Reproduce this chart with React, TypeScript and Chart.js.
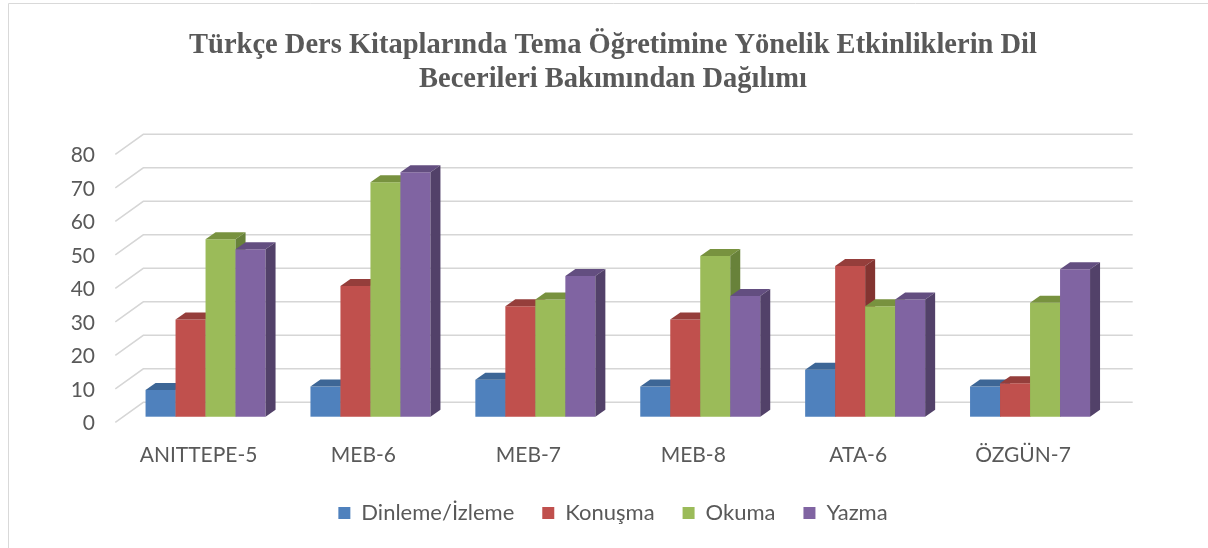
import React, { useEffect, useRef } from "react";
import { Chart, registerables } from "chart.js";

Chart.register(...registerables);

const categories = ["ANITTEPE-5", "MEB-6", "MEB-7", "MEB-8", "ATA-6", "ÖZGÜN-7"];
const dinlemeIzleme = [8, 9, 11, 9, 14, 9];
const konusma = [29, 39, 33, 29, 45, 10];
const okuma = [53, 70, 35, 48, 33, 34];
const yazma = [50, 73, 42, 36, 35, 44];
const seriesNames = ["Dinleme/İzleme", "Konuşma", "Okuma", "Yazma"];
const titleLines = [
  "Türkçe Ders Kitaplarında Tema Öğretimine Yönelik Etkinliklerin Dil",
  "Becerileri Bakımından Dağılımı",
];
const yMin = 0;
const yMax = 80;
const yStep = 10;

const frontColors = ["#4F81BD", "#C0504D", "#9BBB59", "#8064A2"];
const topColors = ["#3D6696", "#953E3B", "#78923F", "#634E80"];
const sideColors = ["#335884", "#833431", "#68823A", "#524169"];

const TEXT = "#595959";
const GRID = "#d6d6d6";
// 3D offsets
const BAR_DX = 10;
const BAR_DY = -7;
const WALL_DX = 20.2;
const WALL_DY = -14.4;
const FLOOR_DX = -28;
const FLOOR_DY = 20;

const threeD = {
  id: "threeD",
  beforeDatasetsDraw(chart: any) {
    const { ctx, chartArea: a } = chart;
    const y = chart.scales.y;
    ctx.save();
    // frame
    ctx.strokeStyle = "#d9d9d9";
    ctx.lineWidth = 1;
    ctx.beginPath();
    ctx.moveTo(0.5, chart.height);
    ctx.lineTo(0.5, 0.5);
    ctx.lineTo(chart.width, 0.5);
    ctx.stroke();
    // back wall + left wall gridlines
    ctx.strokeStyle = GRID;
    ctx.lineWidth = 1.5;
    y.ticks.forEach((t: any) => {
      const yb = y.getPixelForValue(t.value) + WALL_DY;
      const xl = a.left + WALL_DX;
      const xr = a.right + WALL_DX;
      ctx.beginPath();
      ctx.moveTo(xl + FLOOR_DX, yb + FLOOR_DY);
      ctx.lineTo(xl, yb);
      ctx.lineTo(xr, yb);
      ctx.stroke();
    });
    // bars in painter's order
    const n = chart.data.datasets.length;
    for (let i = 0; i < n; i++) {
      const meta = chart.getDatasetMeta(i);
      meta.data.forEach((el: any) => {
        el.draw(ctx);
        const { x, y: yt, base, width } = el.getProps(["x", "y", "base", "width"], true);
        const l = x - width / 2;
        const r = x + width / 2;
        ctx.fillStyle = topColors[i];
        ctx.beginPath();
        ctx.moveTo(l, yt);
        ctx.lineTo(r, yt);
        ctx.lineTo(r + BAR_DX, yt + BAR_DY);
        ctx.lineTo(l + BAR_DX, yt + BAR_DY);
        ctx.closePath();
        ctx.fill();
        ctx.fillStyle = sideColors[i];
        ctx.beginPath();
        ctx.moveTo(r, yt);
        ctx.lineTo(r + BAR_DX, yt + BAR_DY);
        ctx.lineTo(r + BAR_DX, base + BAR_DY);
        ctx.lineTo(r, base);
        ctx.closePath();
        ctx.fill();
      });
    }
    ctx.restore();
    return false;
  },
};

export default function App() {
  const ref = useRef<HTMLCanvasElement>(null);
  useEffect(() => {
    const series = [dinlemeIzleme, konusma, okuma, yazma];
    const chart = new Chart(ref.current as HTMLCanvasElement, {
      type: "bar",
      data: {
        labels: categories,
        datasets: series.map((d, i) => ({
          label: seriesNames[i],
          data: d,
          backgroundColor: frontColors[i],
          borderWidth: 0,
          yAxisID: "y",
          xAxisID: "x",
          categoryPercentage: 0.7277,
          barPercentage: 1,
        })),
      },
      options: {
        animation: false,
        responsive: true,
        maintainAspectRatio: false,
        devicePixelRatio: 1,
        events: [],
        layout: { padding: { top: 0, left: 0, right: 0, bottom: 14 } },
        font: { family: "Lato" },
        plugins: {
          tooltip: { enabled: false },
          title: {
            display: true,
            text: titleLines,
            color: TEXT,
            font: { family: "Liberation Serif", size: 28.5, weight: "bold", lineHeight: 1.193 },
            padding: { top: 26, bottom: 51.7 },
          },
          legend: {
            display: true,
            position: "bottom",
            labels: {
              color: TEXT,
              font: { family: "Lato", size: 22 },
              boxWidth: 12,
              boxHeight: 12,
              padding: 28,
            },
          },
        },
        scales: {
          x: {
            ticks: {
              color: TEXT,
              font: { family: "Lato", size: 21 },
              padding: 26.2,
              labelOffset: -7,
              maxRotation: 0,
              autoSkip: false,
            },
            grid: { display: false, drawTicks: false },
            border: { display: false },
            afterFit: (s: any) => {
              s.height = 57.3;
            },
          },
          y: {
            min: yMin,
            max: yMax,
            ticks: {
              stepSize: yStep,
              color: TEXT,
              font: { family: "Lato", size: 21 },
              padding: 28.1,
              labelOffset: 7,
            },
            grid: { display: false, drawTicks: false },
            border: { display: false },
            afterFit: (s: any) => {
              s.width = 115.1;
            },
          },
          yr: {
            type: "linear",
            position: "right",
            display: true,
            ticks: { display: false },
            grid: { display: false, drawTicks: false },
            border: { display: false },
            afterFit: (s: any) => {
              s.width = 105.5;
            },
          },
        },
      } as any,
      plugins: [threeD as any],
    });
    return () => chart.destroy();
  }, []);
  return (
    <div style={{ position: "fixed", inset: 0, overflow: "hidden", background: "#fff" }}>
      <div style={{ position: "absolute", left: 8, top: 3, width: 1210, height: 545 }}>
        <canvas ref={ref} />
      </div>
    </div>
  );
}
